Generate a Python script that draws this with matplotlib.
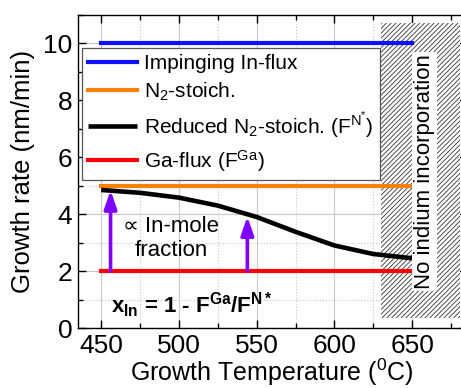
import numpy as np
import matplotlib
matplotlib.use('Agg')
import matplotlib.pyplot as plt
from matplotlib.patches import Rectangle
from matplotlib.ticker import MultipleLocator

plt.rcParams['font.family'] = ['Liberation Sans', 'DejaVu Sans']
plt.rcParams['mathtext.fontset'] = 'custom'
plt.rcParams['mathtext.rm'] = 'Liberation Sans'
plt.rcParams['mathtext.it'] = 'Liberation Sans:italic'
plt.rcParams['mathtext.bf'] = 'Liberation Sans:bold'
plt.rcParams['hatch.linewidth'] = 0.6

# data
temp_range = [450, 650]
impinging_in = [10, 10]
n2_stoich = [5, 5]
ga_flux = [2, 2]

temp_curve = [450, 475, 500, 525, 550, 575, 600, 625, 650]
reduced_n2 = [4.85, 4.75, 4.58, 4.30, 3.90, 3.38, 2.90, 2.60, 2.45]

arrow_x = [456, 544]
arrow_top = [4.84, 3.92]

no_in_region = [630, 681]  # temperature span of the hatched area
no_in_y = [0.35, 10.7]

labels = ['Impinging In-flux', r'N$_2$-stoich.',
          r'Reduced N$_2$-stoich. (F$^{\mathrm{N^{*}}}$)', r'Ga-flux (F$^{\mathrm{Ga}}$)']

fig = plt.figure(figsize=(4.61, 3.88), dpi=100)
ax = fig.add_axes([0.169, 0.1546, 0.843, 0.807])

ax.set_xlim(435, 685)
ax.set_ylim(0, 11)

ax.xaxis.set_major_locator(MultipleLocator(50))
ax.xaxis.set_minor_locator(MultipleLocator(25))
ax.yaxis.set_major_locator(MultipleLocator(2))
ax.yaxis.set_minor_locator(MultipleLocator(1))
ax.grid(which='major', color='#c8c8c8', lw=0.8, ls='-', zorder=0)
ax.grid(which='minor', color='#c8c8c8', lw=0.8, ls=':', zorder=0)
ax.set_axisbelow(True)

ax.tick_params(which='both', direction='in', top=True, right=True, width=1)
ax.tick_params(which='major', length=6, labelsize=19, pad=4)
ax.tick_params(which='minor', length=3.5)
for sp in ax.spines.values():
    sp.set_linewidth(1.0)

# hatched region
rect = Rectangle((no_in_region[0], no_in_y[0]), no_in_region[1] - no_in_region[0],
                 no_in_y[1] - no_in_y[0], facecolor='white', edgecolor='#333333',
                 hatch='///////', lw=0, zorder=1)
ax.add_patch(rect)

h1, = ax.plot(temp_range, impinging_in, color='#1010ff', lw=3, zorder=3)
h2, = ax.plot(temp_range, n2_stoich, color='#ff8000', lw=3, zorder=3)
h3, = ax.plot(temp_curve, reduced_n2, color='black', lw=3.3, zorder=3,
              solid_capstyle='butt')
h4, = ax.plot(temp_range, ga_flux, color='#ff0000', lw=3, zorder=3)

for xa, ya in zip(arrow_x, arrow_top):
    ax.annotate('', xy=(xa, ya), xytext=(xa, ga_flux[0]),
                arrowprops=dict(arrowstyle='-|>,head_length=1.1,head_width=0.38',
                                color='#8000ff', lw=2.6, shrinkA=0, shrinkB=0),
                zorder=4)

ax.text(658, 5.5, 'No indium incorporation', rotation=90, fontsize=16,
        ha='center', va='center', zorder=5,
        bbox=dict(facecolor='white', edgecolor='none', pad=1.5))

ax.text(495, 3.15, '\u221d In-mole\nfraction', fontsize=16, ha='center',
        va='center', multialignment='center', linespacing=1.2, zorder=5)

ax.text(456, 0.52, r'$\mathbf{x_{In}}$ = 1 - F$^{\mathbf{Ga}}$/F$^{\mathbf{N*}}$',
        fontsize=16, fontweight='bold', ha='left', va='baseline', zorder=5)

leg = ax.legend([h1, h2, h3, h4], labels, loc='upper left',
                bbox_to_anchor=(0.0103, 0.895), borderaxespad=0, fontsize=15,
                frameon=True, fancybox=False, framealpha=1, edgecolor='#555555',
                handlelength=2.35, handletextpad=0.35, labelspacing=0.36,
                borderpad=0.3)
leg.get_frame().set_linewidth(0.9)
leg.set_zorder(6)

ax.set_xlabel('Growth Temperature ($^{\\mathrm{0}}$C)', fontsize=18, labelpad=-1)
ax.set_ylabel('Growth rate (nm/min)', fontsize=18.5, labelpad=6)

fig.savefig('out.png', dpi=100)
